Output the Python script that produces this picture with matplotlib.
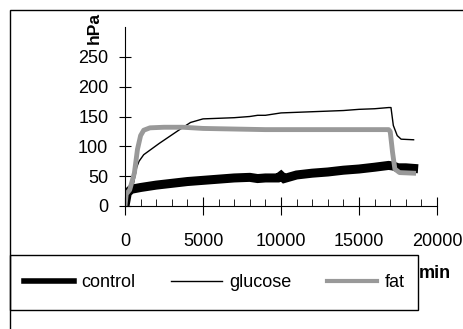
import matplotlib
matplotlib.use('Agg')
import matplotlib.pyplot as plt
from matplotlib.lines import Line2D
from matplotlib.patches import Rectangle

plt.rcParams['font.family'] = ['Liberation Sans', 'DejaVu Sans']
plt.rcParams['font.size'] = 13

# time (min) and pressure (hPa)
t_control = [0, 150, 400, 1000, 2000, 3000, 4000, 5000, 6000, 7000, 8000, 8500,
             9000, 9800, 10000, 10200, 11000, 12000, 13000, 14000, 15000, 16000,
             16900, 17200, 17500, 18000, 18500]
v_control = [0, 22, 28, 31, 35, 38, 41, 43, 45, 47, 48, 46,
             47, 47, 51, 46, 52, 55, 57, 60, 62, 65,
             68, 67, 64, 64, 63]

t_glucose = [0, 100, 500, 750, 900, 1200, 2200, 3500, 4200, 5000, 6000, 7000,
             8000, 8500, 9000, 10000, 11000, 12000, 13000, 14000, 15000, 16000,
             16900, 17050, 17200, 17450, 17700, 18500]
v_glucose = [0, 20, 32, 65, 75, 86, 105, 128, 140, 146, 147, 148,
             150, 152, 152, 156, 157, 158, 159, 160, 162, 163,
             165, 165, 135, 118, 112, 111]

t_fat = [0, 80, 300, 600, 800, 1000, 1200, 1600, 2500, 3700, 5000, 7000,
         9000, 11000, 13000, 15000, 16900, 17000, 17150, 17300, 17600, 18500]
v_fat = [0, 20, 27, 55, 95, 118, 127, 131, 132, 132, 130, 129,
         128, 128, 128, 128, 128, 125, 90, 62, 56, 55]

series_names = ['control', 'glucose', 'fat']

fig = plt.figure(figsize=(4.64, 3.29), dpi=100)
ax = fig.add_axes([125/464, 1-206/329, 312/464, 179/329])

ax.plot(t_control, v_control, color='black', lw=6.5, solid_joinstyle='miter')
ax.plot(t_glucose, v_glucose, color='black', lw=1)
ax.plot(t_fat, v_fat, color='#999999', lw=3.5)

ax.set_xlim(0, 20000)
ax.set_ylim(0, 300)
ax.set_xticks([0, 5000, 10000, 15000, 20000])
ax.set_xticks(range(0, 20001, 1000), minor=True)
ax.set_yticks([0, 50, 100, 150, 200, 250])
for s in ['top', 'right']:
    ax.spines[s].set_visible(False)
ax.tick_params(axis='x', which='major', direction='inout', length=13, pad=13, labelsize=13)
ax.tick_params(axis='x', which='minor', direction='in', length=5)
ax.tick_params(axis='y', which='major', direction='inout', length=8, pad=8, labelsize=13)
ax.patch.set_alpha(0)

fig.text(94/464, 1-28/329, 'hPa', rotation=90, fontweight='bold',
         ha='center', va='center', fontsize=12.5)
fig.text(419/464, 1-273/329, 'min', fontweight='bold', ha='left', va='center', fontsize=13)

# outer frame and legend box
fig.patches.append(Rectangle((10/464, -0.2), 1.2, 1.2 - 10/329, transform=fig.transFigure,
                             fill=False, edgecolor='black', lw=1))
fig.patches.append(Rectangle((10/464, 1-310/329), 408/464, 55/329, transform=fig.transFigure,
                             fill=False, edgecolor='black', lw=1))

handles = [Line2D([], [], color='black', lw=4),
           Line2D([], [], color='black', lw=1),
           Line2D([], [], color='#999999', lw=3)]
leg = fig.legend(handles, series_names, loc='center',
                 bbox_to_anchor=(10/464, 1-310/329, 408/464, 55/329), mode='expand',
                 ncol=3, frameon=False, borderaxespad=0,
                 handlelength=2.8, handletextpad=0.4, columnspacing=1.5,
                 borderpad=0.75, fontsize=13)

fig.savefig('out.png', dpi=100)
